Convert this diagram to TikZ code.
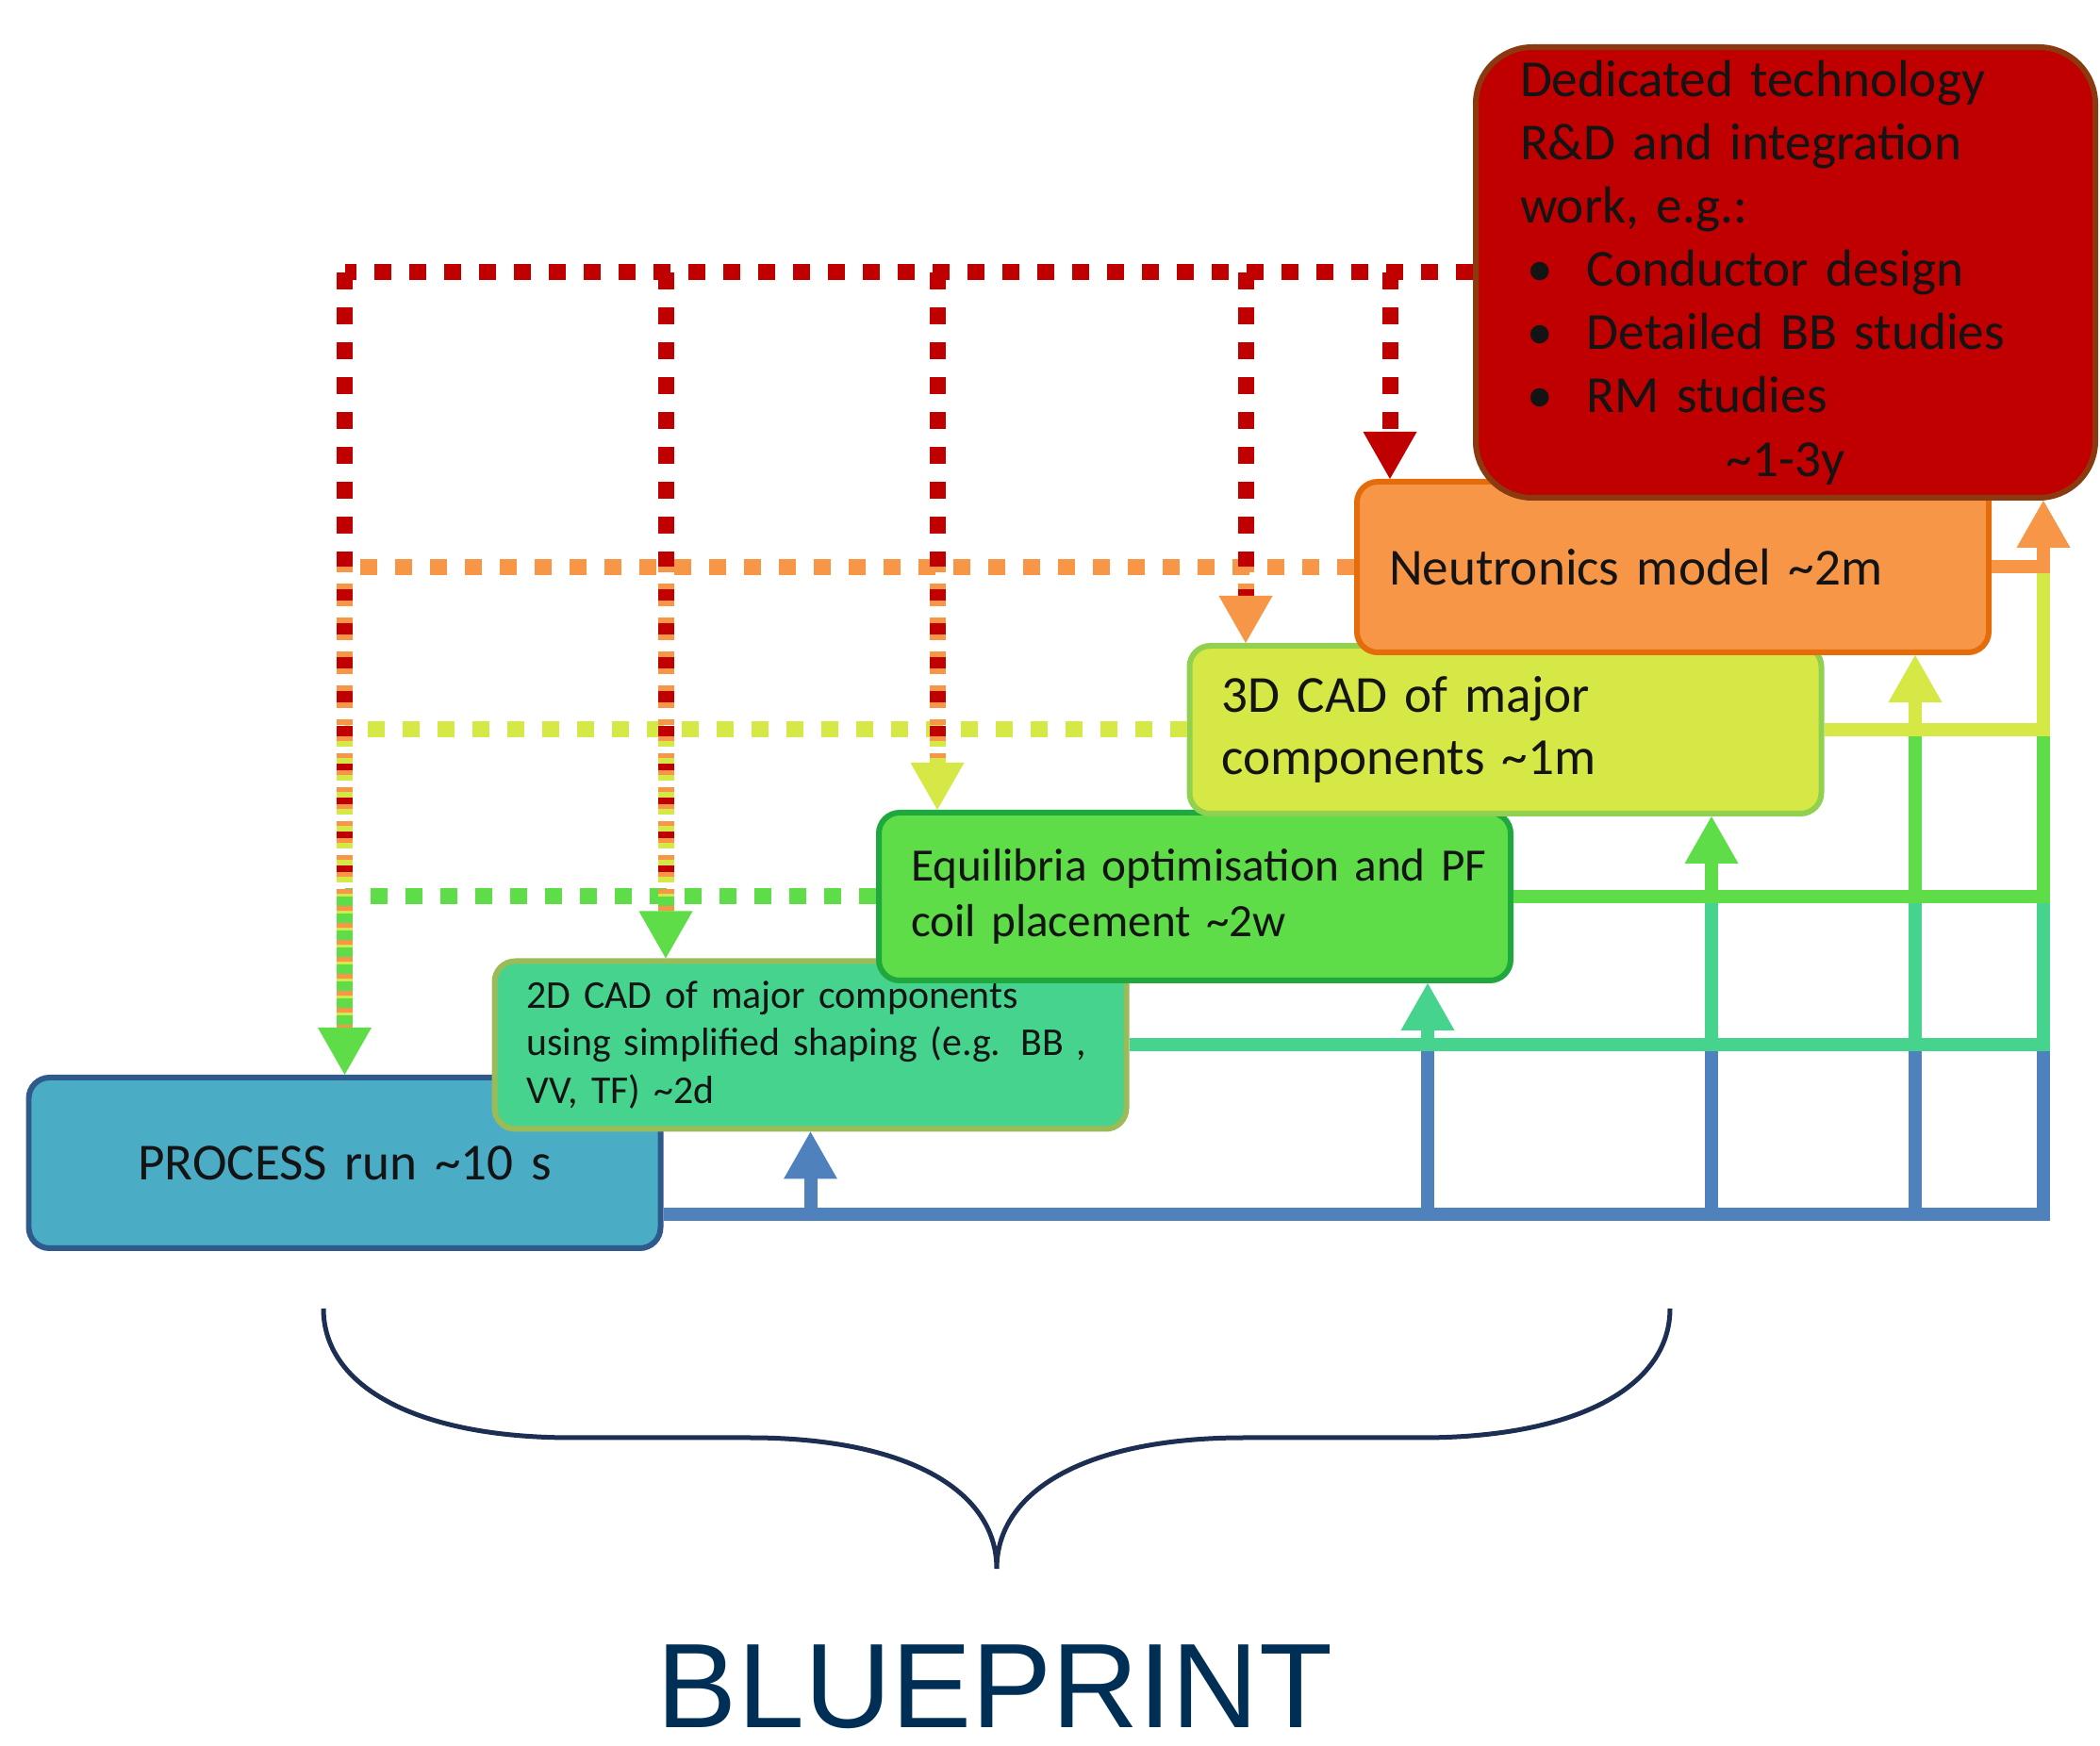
\documentclass[tikz,border=0pt]{standalone}
\usepackage{fontspec}
\setmainfont{Carlito}
\newfontfamily\bpfont{Liberation Sans}
\usetikzlibrary{arrows.meta}

\definecolor{cproc}{HTML}{4BACC6}
\definecolor{cprocline}{HTML}{2F5A8C}
\definecolor{cblue}{HTML}{4F81BD}
\definecolor{ccadtwo}{HTML}{45D38E}
\definecolor{ccadtwoline}{HTML}{9BBB59}
\definecolor{cequil}{HTML}{5EDD48}
\definecolor{cequilline}{HTML}{1FA83E}
\definecolor{ccadthree}{HTML}{D5E845}
\definecolor{ccadthreeline}{HTML}{92D050}
\definecolor{cneutr}{HTML}{F79646}
\definecolor{cneutrline}{HTML}{E46C0A}
\definecolor{crnd}{HTML}{C00000}
\definecolor{crndline}{HTML}{8B3A0F}
\definecolor{cbrace}{HTML}{1C2E52}
\definecolor{cbp}{HTML}{002F56}
\definecolor{cboxtext}{HTML}{141414}

\begin{document}
\begin{tikzpicture}
    [
        stage/.style={draw, line width=0.06cm, rounded corners=0.22cm,
            text width=6.02cm, inner xsep=0.34cm, minimum height=1.78cm,
            align=left, text=cboxtext, font=\fontsize{15.7}{19}\selectfont},
        dotline/.style={line width=0.17cm, dash pattern=on 0.18cm off 0.19cm},
        mixline/.style={line width=0.17cm, dash pattern=on 0.06cm off 0.12cm},
        feedline/.style={line width=0.14cm},
        arrowtip/.style={-{Triangle[width=0.57cm, length=0.5cm, line width=0pt]}},
        tipgap/.style={shorten >=0.5cm}
    ]
    \useasboundingbox (0,0) rectangle (22.27,18.52);

    \node[stage, fill=cproc, draw=cprocline, align=center, minimum height=1.81cm]
        (process) at (3.655,6.185) {PROCESS run \textasciitilde10 s};
    \node[stage, fill=ccadtwo, draw=ccadtwoline, font=\fontsize{11.9}{14.5}\selectfont]
        (cadtwo) at (8.595,7.435) {
            \mbox{2D CAD of major components} \\
            \mbox{using simplified shaping (e.g. BB ,} \\
            VV, TF) \textasciitilde2d
        };
    \node[stage, fill=cequil, draw=cequilline, font=\fontsize{14}{17}\selectfont]
        (equil) at (12.67,9.01) {
            \mbox{Equilibria optimisation and PF} \\
            coil placement \textasciitilde2w
        };
    \node[stage, fill=ccadthree, draw=ccadthreeline]
        (cadthree) at (15.965,10.78) {
            3D CAD of major \\
            components \textasciitilde1m
        };
    \node[stage, fill=cneutr, draw=cneutrline, minimum height=1.81cm]
        (neutr) at (17.74,12.505) {Neutronics model \textasciitilde2m};
    \node[stage, fill=crnd, draw=crndline, rounded corners=0.6cm,
            text width=5.63cm, inner xsep=0.47cm, minimum height=4.78cm,
            font=\fontsize{15.7}{19.1}\selectfont]
        (rnd) at (18.935,15.63) {
            Dedicated technology \\
            R\&D and integration \\
            work, e.g.: \\
            \hspace*{0.07cm}\makebox[0.64cm][l]{\textbullet}Conductor design \\
            \hspace*{0.07cm}\makebox[0.64cm][l]{\textbullet}Detailed BB studies \\
            \hspace*{0.07cm}\makebox[0.64cm][l]{\textbullet}RM studies \\
            \makebox[5.63cm][c]{\textasciitilde1-3y}
        };

    \coordinate (d2) at (7.06,0);
    \coordinate (d3) at (9.94,0);
    \coordinate (d4) at (13.21,0);
    \coordinate (d5) at (14.74,0);
    \coordinate (u2) at (15.14,0);
    \coordinate (u3) at (18.15,0);
    \coordinate (u4) at (20.31,0);
    \coordinate (u5) at (21.67,0);
    \coordinate (bl) at ([yshift=0.39cm]process.south east);

    \draw[dotline, crnd] (rnd.west) -- (rnd.west -| process.north);
    \draw[dotline, cneutr] (neutr.west) -- (neutr.west -| process.north);
    \draw[dotline, ccadthree] (cadthree.west) -- (cadthree.west -| process.north);
    \draw[dotline, cequil] (equil.west) -- (equil.west -| process.north);

    \draw[dotline, crnd, tipgap] (rnd.west -| process.north) -- (process.north);
    \draw[dotline, crnd, tipgap] (rnd.west -| d2) -- (d2 |- cadtwo.north);
    \draw[dotline, crnd, tipgap] (rnd.west -| d3) -- (d3 |- equil.north);
    \draw[dotline, crnd, tipgap] (rnd.west -| d4) -- (d4 |- cadthree.north);
    \draw[dotline, crnd, arrowtip] (rnd.west -| d5) -- (d5 |- neutr.north);

    \draw[mixline, cneutr, tipgap] (neutr.west -| process.north) -- (process.north);
    \draw[mixline, cneutr, tipgap] (neutr.west -| d2) -- (d2 |- cadtwo.north);
    \draw[mixline, cneutr, tipgap] (neutr.west -| d3) -- (d3 |- equil.north);
    \draw[mixline, cneutr, arrowtip] (neutr.west -| d4) -- (d4 |- cadthree.north);

    \draw[mixline, ccadthree, dash phase=0.06cm, tipgap] (cadthree.west -| process.north) -- (process.north);
    \draw[mixline, ccadthree, dash phase=0.06cm, tipgap] (cadthree.west -| d2) -- (d2 |- cadtwo.north);
    \draw[mixline, ccadthree, dash phase=0.06cm, arrowtip] (cadthree.west -| d3) -- (d3 |- equil.north);

    \draw[mixline, cequil, dash pattern=on 0.1cm off 0.08cm, arrowtip] (equil.west -| process.north) -- (process.north);
    \draw[mixline, cequil, dash pattern=on 0.1cm off 0.08cm, arrowtip] (equil.west -| d2) -- (d2 |- cadtwo.north);

    \draw[feedline, cblue] (bl) -| (u5 |- cadtwo.east);
    \foreach \u in {u2,u3,u4}
        \draw[feedline, cblue] (bl -| \u) -- (\u |- cadtwo.east);
    \draw[feedline, cblue, arrowtip] (bl -| cadtwo.south) -- (cadtwo.south);

    \draw[feedline, ccadtwo] (cadtwo.east) -| (u5 |- equil.east);
    \foreach \u in {u3,u4}
        \draw[feedline, ccadtwo] (cadtwo.east -| \u) -- (\u |- equil.east);
    \draw[feedline, ccadtwo, arrowtip] (cadtwo.east -| u2) -- (u2 |- equil.south);

    \draw[feedline, cequil] (equil.east) -| (u5 |- cadthree.east);
    \draw[feedline, cequil] (equil.east -| u4) -- (u4 |- cadthree.east);
    \draw[feedline, cequil, arrowtip] (equil.east -| u3) -- (u3 |- cadthree.south);

    \draw[feedline, ccadthree] (cadthree.east) -| (u5 |- neutr.east);
    \draw[feedline, ccadthree, arrowtip] (cadthree.east -| u4) -- (u4 |- neutr.south);

    \draw[feedline, cneutr, arrowtip] (neutr.east) -| (u5 |- rnd.south);

    \draw[cbrace, line width=0.05cm]
        (3.43,4.64) .. controls (3.43,3.82) and (4.40,3.27) .. (6.07,3.27)
        -- (7.95,3.27) .. controls (9.60,3.27) and (10.57,2.72) .. (10.57,1.88)
        .. controls (10.57,2.72) and (11.54,3.27) .. (13.19,3.27)
        -- (15.07,3.27) .. controls (16.74,3.27) and (17.71,3.82) .. (17.71,4.64);

    \node[font=\bpfont\fontsize{36.3}{40}\selectfont, text=cbp, anchor=base, inner sep=0pt]
        (bp) at (10.55,0.2) {BLUEPRINT};
\end{tikzpicture}
\end{document}
